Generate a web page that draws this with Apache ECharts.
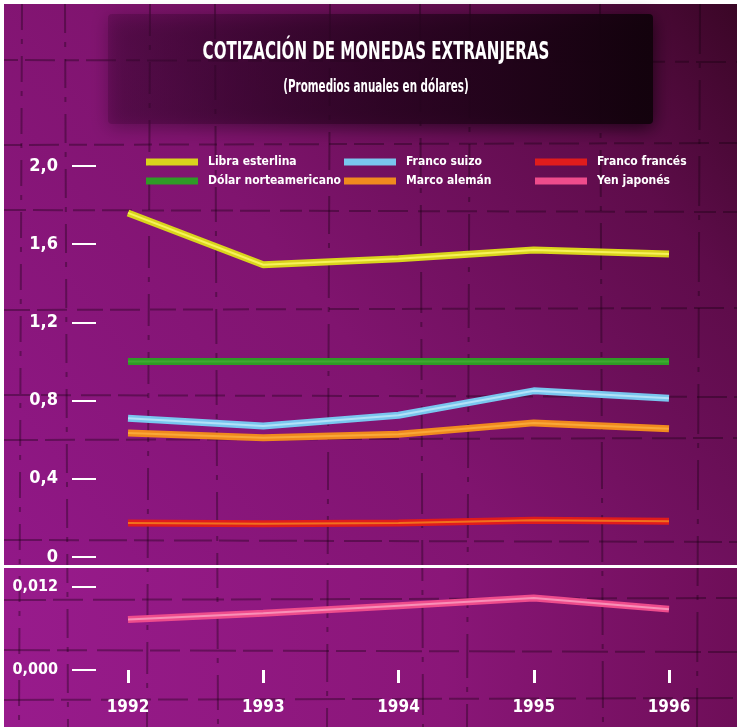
<!DOCTYPE html>
<html>
<head>
<meta charset="utf-8">
<script src="https://cdn.jsdelivr.net/npm/echarts@6/dist/echarts.min.js"></script>
<style>
html,body{margin:0;padding:0;background:#ffffff;}
#chart{width:741px;height:727px;}
</style>
</head>
<body>
<div id="chart"></div>
<script>
// ---- data ----
var years = ['1992', '1993', '1994', '1995', '1996'];
var libraEsterlina = [1.76, 1.495, 1.525, 1.57, 1.55];
var dolarNorteamericano = [1.0, 1.0, 1.0, 1.0, 1.0];
var francoSuizo = [0.71, 0.67, 0.725, 0.85, 0.812];
var marcoAleman = [0.634, 0.61, 0.628, 0.686, 0.656];
var francoFrances = [0.174, 0.17, 0.174, 0.188, 0.183];
var yenJapones = [0.0073, 0.0082, 0.0093, 0.0104, 0.0088];
var topTicks = [0, 0.4, 0.8, 1.2, 1.6, 2.0];
var bottomTicks = [0, 0.012];
var titleText = 'COTIZACIÓN DE MONEDAS EXTRANJERAS';
var subtitleText = '(Promedios anuales en dólares)';

var FONT = '"DejaVu Sans Condensed", "Liberation Sans Narrow", sans-serif';

var seriesDefs = [
  {name: 'Libra esterlina', data: libraEsterlina, color: '#d9d41c', hi: '#f6f25a', grid: 0},
  {name: 'Dólar norteamericano', data: dolarNorteamericano, color: '#2f9a26', hi: '#3eaa30', grid: 0},
  {name: 'Franco suizo', data: francoSuizo, color: '#79c6ee', hi: '#b2e2f8', grid: 0},
  {name: 'Marco alemán', data: marcoAleman, color: '#f08a1e', hi: '#f9a838', grid: 0},
  {name: 'Franco francés', data: francoFrances, color: '#e01c1c', hi: '#f0701e', grid: 0},
  {name: 'Yen japonés', data: yenJapones, color: '#ee4c8c', hi: '#f890b8', grid: 1}
];

var series = [];
seriesDefs.forEach(function (s) {
  series.push({
    name: s.name, type: 'line', data: s.data,
    xAxisIndex: s.grid, yAxisIndex: s.grid,
    showSymbol: false, symbol: 'none', silent: true,
    color: s.color,
    lineStyle: {color: s.color, width: 7, cap: 'butt'},
    z: 3
  });
  series.push({
    name: s.name, type: 'line', data: s.data,
    xAxisIndex: s.grid, yAxisIndex: s.grid,
    showSymbol: false, symbol: 'none', silent: true,
    color: s.color,
    lineStyle: {color: s.hi, width: 2, cap: 'butt'},
    z: 4
  });
});

function fmtTop(v) { return v === 0 ? '0' : v.toFixed(1).replace('.', ','); }
function fmtBottom(v) { return v.toFixed(3).replace('.', ','); }

var legendCommon = {
  orient: 'vertical', icon: 'rect', itemWidth: 52, itemHeight: 7, itemGap: 7,
  selectedMode: false,
  textStyle: {color: '#ffffff', fontFamily: FONT, fontWeight: 'bold', fontSize: 12, padding: [0, 0, 0, 5]}
};

// decorative cracked-tile texture of the original artwork (not data)
var texV = [22, 65, 150, 215, 330, 420, 470, 600, 700];
var texH = [60, 145, 210, 310, 395, 440, 540, 600, 650, 700];
var texture = [];
texV.forEach(function (x, i) {
  texture.push({type: 'line', z: -5, silent: true,
    shape: {x1: x, y1: 4, x2: x + (i % 2 ? 3 : -3), y2: 727},
    style: {stroke: 'rgba(20,0,15,0.35)', lineWidth: 2, lineDash: [26 + i * 3, 9, 5, 12]}});
});
texH.forEach(function (y, i) {
  texture.push({type: 'line', z: -5, silent: true,
    shape: {x1: 4, y1: y, x2: 737, y2: y + (i % 2 ? -2 : 2)},
    style: {stroke: 'rgba(20,0,15,0.35)', lineWidth: 2, lineDash: [14 + i * 4, 7, 30, 10]}});
});

var chart = echarts.init(document.getElementById('chart'), null, {renderer: 'canvas'});
chart.setOption({
  animation: false,
  backgroundColor: '#ffffff',
  graphic: [
    {type: 'rect', z: -10, silent: true,
      shape: {x: 4, y: 4, width: 733, height: 723},
      style: {fill: {type: 'linear', x: 0, y: 0.8, x2: 1, y2: 0,
        colorStops: [{offset: 0, color: '#921888'}, {offset: 0.45, color: '#80146f'}, {offset: 0.8, color: '#5e0c4a'}, {offset: 1, color: '#3a0626'}]}}},
    {type: 'rect', z: -9, silent: true,
      shape: {x: 4, y: 568, width: 733, height: 159},
      style: {fill: {type: 'linear', x: 0, y: 0, x2: 1, y2: 0,
        colorStops: [{offset: 0, color: '#981b8c'}, {offset: 0.6, color: '#8a1678'}, {offset: 1, color: '#6e0e58'}]}}}
  ].concat(texture).concat([
    {type: 'rect', z: -4, silent: true,
      shape: {x: 108, y: 14, width: 545, height: 110, r: 4},
      style: {fill: {type: 'linear', x: 0, y: 0, x2: 1, y2: 0,
        colorStops: [{offset: 0, color: 'rgba(70,6,60,0.35)'}, {offset: 0.5, color: 'rgba(45,4,36,0.75)'}, {offset: 1, color: 'rgba(18,2,12,0.97)'}]},
        shadowBlur: 18, shadowColor: 'rgba(10,0,8,0.8)', shadowOffsetY: 4}},
    {type: 'rect', z: 10, silent: true,
      shape: {x: 0, y: 565, width: 741, height: 3},
      style: {fill: '#ffffff'}},
    {type: 'text', z: 10, silent: true, x: 376, y: 52, scaleX: 0.67,
      style: {text: titleText, fill: '#ffffff', font: 'bold 25px ' + FONT, textAlign: 'center', textVerticalAlign: 'middle'}},
    {type: 'text', z: 10, silent: true, x: 376, y: 87, scaleX: 0.64,
      style: {text: subtitleText, fill: '#ffffff', font: 'bold 18px ' + FONT, textAlign: 'center', textVerticalAlign: 'middle'}}
  ]),
  legend: [
    Object.assign({left: 141, top: 151, data: ['Libra esterlina', 'Dólar norteamericano']}, legendCommon),
    Object.assign({left: 339, top: 151, data: ['Franco suizo', 'Marco alemán']}, legendCommon),
    Object.assign({left: 530, top: 151, data: ['Franco francés', 'Yen japonés']}, legendCommon)
  ],
  grid: [
    {left: 128, right: 72, top: 166, height: 391},
    {left: 128, right: 72, top: 587, height: 83}
  ],
  xAxis: [
    {type: 'category', gridIndex: 0, data: years, boundaryGap: false, show: false},
    {type: 'category', gridIndex: 1, data: years, boundaryGap: false, offset: 9,
      axisLine: {show: false},
      axisTick: {show: true, length: 13, alignWithLabel: true, lineStyle: {color: '#ffffff', width: 3}},
      axisLabel: {color: '#ffffff', fontFamily: FONT, fontWeight: 'bold', fontSize: 17, margin: 20},
      splitLine: {show: false}}
  ],
  yAxis: [
    {type: 'value', gridIndex: 0, min: topTicks[0], max: topTicks[topTicks.length - 1], interval: 0.4, offset: 32,
      axisLine: {show: false},
      axisTick: {show: true, length: 24, lineStyle: {color: '#ffffff', width: 2}},
      axisLabel: {color: '#ffffff', fontFamily: FONT, fontWeight: 'bold', fontSize: 18, margin: 38, formatter: fmtTop},
      splitLine: {show: false}},
    {type: 'value', gridIndex: 1, min: bottomTicks[0], max: bottomTicks[1], interval: 0.012, offset: 32,
      axisLine: {show: false},
      axisTick: {show: true, length: 24, lineStyle: {color: '#ffffff', width: 2}},
      axisLabel: {color: '#ffffff', fontFamily: FONT, fontWeight: 'bold', fontSize: 16, margin: 38, formatter: fmtBottom},
      splitLine: {show: false}}
  ],
  series: series
});
</script>
</body>
</html>
